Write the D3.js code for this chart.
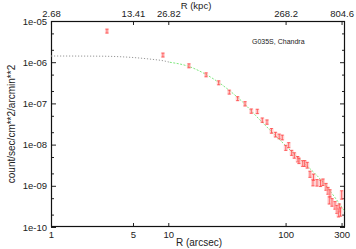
<!DOCTYPE html>
<html><head><meta charset="utf-8">
<script src="https://cdn.jsdelivr.net/npm/d3@7"></script>
<style>
html,body{margin:0;padding:0;background:#fff;}
svg{display:block;font-family:"Liberation Sans",Arial,sans-serif;}
</style></head>
<body><svg id="c" width="356" height="249"></svg>
<script>
// radius in arcsec
const radiusArcsec = [3.0, 9.0, 15.0, 21.0, 26.9, 33.1, 39.0, 45.1, 51.0, 57.4, 63.3, 69.4, 75.8, 82.0, 88.2, 93.7, 100.4, 106.3, 112.7, 118.7, 126.8, 130.1, 139.9, 145.5, 153.1, 161.4, 171.2, 172.9, 185.2, 198.4, 208.4, 221.0, 229.8, 235.9, 239.0, 248.7, 263.8, 274.3, 282.5, 287.0, 293.8, 300.8];
// surface brightness, count/sec/cm^2/arcmin^2
const brightness = [5.72e-6, 1.50e-6, 8.22e-7, 4.97e-7, 3.18e-7, 1.89e-7, 1.31e-7, 9.84e-8, 6.54e-8, 6.43e-8, 3.95e-8, 3.54e-8, 2.17e-8, 1.76e-8, 1.59e-8, 1.50e-8, 8.41e-9, 9.77e-9, 6.36e-9, 5.50e-9, 4.47e-9, 4.07e-9, 3.52e-9, 3.52e-9, 3.20e-9, 1.93e-9, 1.20e-9, 1.64e-9, 1.20e-9, 1.17e-9, 1.24e-9, 9.6e-10, 7.69e-10, 4.52e-10, 6.68e-10, 4.04e-10, 3.42e-10, 2.73e-10, 2.25e-10, 2.97e-10, 2.38e-10, 6.15e-10];
// relative error of each point
const relError = [0.11, 0.11, 0.11, 0.11, 0.11, 0.11, 0.11, 0.12, 0.12, 0.12, 0.12, 0.12, 0.13, 0.13, 0.13, 0.13, 0.14, 0.14, 0.14, 0.15, 0.15, 0.15, 0.16, 0.16, 0.16, 0.17, 0.17, 0.17, 0.18, 0.18, 0.18, 0.19, 0.19, 0.2, 0.2, 0.21, 0.21, 0.22, 0.22, 0.22, 0.23, 0.23];
// model curve: inner (unfitted) part and fitted part
const modelInnerR = [1, 2.62, 5.0, 7.26, 9.01, 10.3];
const modelInnerS = [1.414e-6, 1.40e-6, 1.30e-6, 1.175e-6, 1.087e-6, 9.96e-7];
const modelFitR = [10.3, 15.0, 21.0, 27.0, 33.6, 40.8, 60.5, 104.8, 225.4, 321];
const modelFitS = [9.96e-7, 7.87e-7, 5.03e-7, 3.21e-7, 2.0e-7, 1.245e-7, 3.95e-8, 8.26e-9, 9.35e-10, 2.35e-10];
// axis ticks
const xTicks = [1, 5, 10, 100, 300];
const kpcPerArcsec = 2.682;
const kpcTicks = [2.68, 13.41, 26.82, 268.2, 804.6];
const yTicks = [1e-5, 1e-6, 1e-7, 1e-8, 1e-9, 1e-10];
const yTickLabels = ["1e-05", "1e-06", "1e-07", "1e-08", "1e-09", "1e-10"];
const yMinorTicks = [5e-6, 2e-6, 5e-7, 2e-7, 5e-8, 2e-8, 5e-9, 2e-9, 5e-10, 2e-10];

const L = 51, R = 345, T = 21, B = 227;
const svg = d3.select("#c");
const x = d3.scaleLog().domain([1, 321]).range([L, R]);
const xk = d3.scaleLog().domain([1 * kpcPerArcsec, 321 * kpcPerArcsec]).range([L, R]);
const y = d3.scaleLog().domain([1e-10, 1e-5]).range([B, T]);

const fs = 9.5;
svg.append("g").attr("transform", `translate(0,${B})`)
  .call(d3.axisBottom(x).tickValues(xTicks).tickFormat(d3.format("d")).tickSizeInner(-4).tickSizeOuter(0).tickPadding(4));
svg.append("g").attr("transform", `translate(0,${T})`)
  .call(d3.axisTop(xk).tickValues(kpcTicks).tickFormat(d => String(d)).tickSizeInner(-4).tickSizeOuter(0).tickPadding(4));
svg.append("g").attr("transform", `translate(${L},0)`)
  .call(d3.axisLeft(y).tickValues(yTicks).tickFormat((d, i) => yTickLabels[i]).tickSizeInner(-5).tickSizeOuter(0).tickPadding(4));
svg.append("g").attr("transform", `translate(${R},0)`)
  .call(d3.axisRight(y).tickValues(yTicks).tickFormat("").tickSizeInner(-5).tickSizeOuter(0));
svg.append("g").attr("transform", `translate(${L},0)`)
  .call(d3.axisLeft(y).tickValues(yMinorTicks).tickFormat("").tickSizeInner(-3).tickSizeOuter(0));
svg.append("g").attr("transform", `translate(${R},0)`)
  .call(d3.axisRight(y).tickValues(yMinorTicks).tickFormat("").tickSizeInner(-3).tickSizeOuter(0));

svg.selectAll(".domain").remove();
svg.selectAll(".tick line").attr("stroke", "#222");
svg.selectAll(".tick text").attr("fill", "#222").style("font-size", fs + "px").style("font-family", '"Liberation Sans",Arial,sans-serif');
svg.append("rect").attr("x", L + 0.5).attr("y", T + 0.5).attr("width", R - L - 1).attr("height", B - T - 1)
  .attr("fill", "none").attr("stroke", "#111").attr("stroke-width", 1.2);

// model curves
const line = d3.line().x(d => x(d[0])).y(d => y(d[1])).curve(d3.curveMonotoneX);
svg.append("path").datum(modelInnerR.map((r, i) => [r, modelInnerS[i]]))
  .attr("d", line).attr("fill", "none").attr("stroke", "#999").attr("stroke-width", 1).attr("stroke-dasharray", "1.2,1.8");
svg.append("path").datum(modelFitR.map((r, i) => [r, modelFitS[i]]))
  .attr("d", line).attr("fill", "none").attr("stroke", "#7ee87e").attr("stroke-width", 1).attr("stroke-dasharray", "2,1.5");

// data points with error bars
const pts = radiusArcsec.map((r, i) => ({r, s: brightness[i], e: brightness[i] * relError[i]}));
const pg = svg.append("g").selectAll("g").data(pts).enter().append("g");
pg.append("rect")
  .attr("x", d => x(d.r) - 2).attr("width", 4)
  .attr("y", d => y(d.s + d.e) - 0.5).attr("height", d => y(d.s - d.e) - y(d.s + d.e) + 1)
  .attr("fill", "#ffaaaa").attr("opacity", 0.5);
pg.append("path")
  .attr("d", d => {
    const cx = x(d.r), y1 = y(d.s + d.e), y2 = y(d.s - d.e);
    return `M${cx},${y1}V${y2}M${cx - 1.5},${y1}H${cx + 1.5}M${cx - 1.5},${y2}H${cx + 1.5}`;
  })
  .attr("fill", "none").attr("stroke", "#f33").attr("stroke-width", 0.7);

// titles
svg.append("text").attr("x", 199).attr("y", 246).attr("text-anchor", "middle")
  .style("font-size", "10px").attr("fill", "#222").text("R (arcsec)");
svg.append("text").attr("x", 196).attr("y", 8.5).attr("text-anchor", "middle")
  .style("font-size", "9.5px").attr("fill", "#222").text("R (kpc)");
svg.append("text").attr("transform", `translate(15,124) rotate(-90)`).attr("text-anchor", "middle")
  .style("font-size", "10px").attr("fill", "#222").text("count/sec/cm**2/arcmin**2");
svg.append("text").attr("x", 252).attr("y", 44)
  .style("font-size", "7px").attr("fill", "#222").text("G035S, Chandra");
</script></body></html>
